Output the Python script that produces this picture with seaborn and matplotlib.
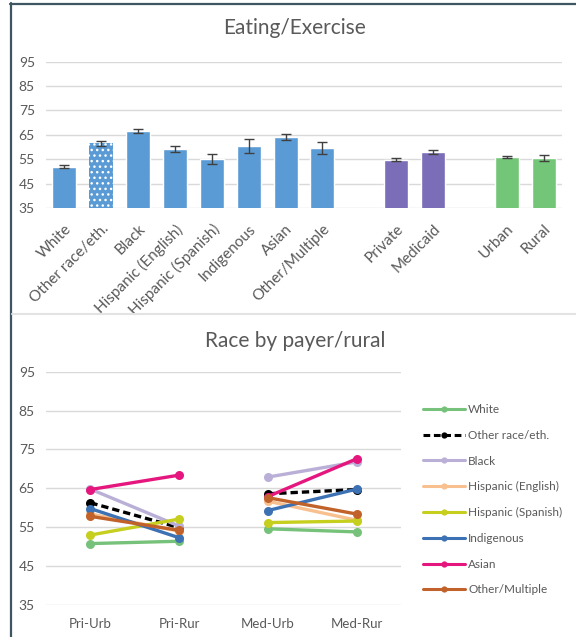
import numpy as np
import pandas as pd
import matplotlib
matplotlib.use("Agg")
import matplotlib.pyplot as plt
from matplotlib.lines import Line2D
import seaborn as sns

# ---------------- data ----------------
bar_categories = ["White", "Other race/eth.", "Black", "Hispanic (English)",
                  "Hispanic (Spanish)", "Indigenous", "Asian", "Other/Multiple",
                  "Private", "Medicaid", "Urban", "Rural"]
bar_values = [52.0, 61.6, 66.6, 59.2, 55.1, 60.5, 64.1, 59.6, 54.7, 57.8, 56.0, 55.6]
bar_errors = [0.7, 1.0, 1.0, 1.4, 2.2, 3.0, 1.4, 2.3, 0.6, 0.8, 0.4, 1.2]
bar_groups = ["race"] * 8 + ["payer"] * 2 + ["area"] * 2

line_slots = ["Pri-Urb", "Pri-Rur", "Med-Urb", "Med-Rur"]
race_names = ["White", "Other race/eth.", "Black", "Hispanic (English)",
              "Hispanic (Spanish)", "Indigenous", "Asian", "Other/Multiple"]
white_vals = [50.8, 51.4, 54.6, 53.8]
other_race_vals = [61.3, 54.9, 63.6, 64.7]
black_vals = [64.8, 55.3, 67.9, 71.8]
hisp_eng_vals = [58.4, 54.0, 61.7, 56.8]
hisp_spa_vals = [53.0, 57.1, 56.2, 56.6]
indigenous_vals = [59.8, 52.3, 59.3, 64.8]
asian_vals = [64.7, 68.4, 62.9, 72.6]
other_multi_vals = [57.8, 54.2, 62.6, 58.4]
race_series = [white_vals, other_race_vals, black_vals, hisp_eng_vals,
               hisp_spa_vals, indigenous_vals, asian_vals, other_multi_vals]

y_ticks = [35, 45, 55, 65, 75, 85, 95]

# ---------------- styling ----------------
group_colors = {"race": "#5B9BD5", "payer": "#7B6DB7", "area": "#73C677"}
race_colors = ["#77C27A", "#000000", "#BAAFD6", "#F9C08F", "#C6CE1E",
               "#3C71B4", "#E5177E", "#C1622B"]
text_gray = "#595959"
grid_gray = "#D9D9D9"

sns.set_theme(style="white")
plt.rcParams["font.family"] = ["Lato", "DejaVu Sans"]
plt.rcParams["hatch.linewidth"] = 1.0

fig = plt.figure(figsize=(5.76, 6.37), dpi=100)

# ---------------- top: bar chart ----------------
ax1 = fig.add_axes([0.0799, 0.6735, 0.8958, 0.2296])
order = bar_categories[:8] + [" "] + bar_categories[8:10] + ["  "] + bar_categories[10:]
bar_df = pd.DataFrame({"category": bar_categories, "value": bar_values})
palette = {c: group_colors[g] for c, g in zip(bar_categories, bar_groups)}
palette[" "] = "white"
palette["  "] = "white"
sns.barplot(data=bar_df, x="category", y="value", order=order, hue="category",
            hue_order=order, palette=palette, legend=False, width=0.65,
            saturation=1, ax=ax1)

positions = [order.index(c) for c in bar_categories]
ax1.errorbar(positions, bar_values, yerr=bar_errors, fmt="none",
             ecolor="#404040", elinewidth=1.0, capsize=3.5, capthick=1.0, zorder=5)

# dotted fill for the combined "other race" bar
for patch in ax1.patches:
    x_center = patch.get_x() + patch.get_width() / 2
    if abs(x_center - order.index("Other race/eth.")) < 0.01:
        patch.set_hatch("...")
        patch.set_edgecolor("white")
        patch.set_linewidth(0)

ax1.set_ylim(35, 95)
ax1.set_xlim(-0.5, len(order) - 0.5)
ax1.set_yticks(y_ticks)
ax1.yaxis.grid(True, color=grid_gray, linewidth=1.0)
ax1.set_axisbelow(True)
for s in ax1.spines.values():
    s.set_visible(False)
ax1.set_xlabel("")
ax1.set_ylabel("")
ax1.set_xticks(range(len(order)))
ax1.set_xticklabels([c.strip() for c in order], rotation=45, ha="right",
                    rotation_mode="anchor", fontsize=11, color=text_gray)
ax1.tick_params(axis="x", length=0, pad=10)
ax1.tick_params(axis="y", length=0, labelsize=10, labelcolor=text_gray, pad=8)
for lbl in ax1.get_xticklabels():
    x, y = lbl.get_position()
    lbl.set_x(x + 0.42)

fig.text(0.511, 0.956, "Eating/Exercise", ha="center", va="center",
         fontsize=15, color=text_gray)

# ---------------- bottom: line chart ----------------
ax2 = fig.add_axes([0.0799, 0.0502, 0.6163, 0.3663])
rows = []
for name, vals in zip(race_names, race_series):
    for i, v in enumerate(vals):
        rows.append({"race": name, "slot": i, "value": v, "segment": i // 2})
line_df = pd.DataFrame(rows)

dashes = {n: "" for n in race_names}
dashes["Other race/eth."] = (2.2, 1.2)
markers = {n: "o" for n in race_names}
sns.lineplot(data=line_df, x="slot", y="value", hue="race", hue_order=race_names,
             style="race", style_order=race_names, dashes=dashes, markers=markers,
             units="segment", estimator=None, palette=race_colors, linewidth=2.4,
             markersize=6.5, markeredgewidth=0, legend=False, ax=ax2)

ax2.set_ylim(35, 95)
ax2.set_xlim(-0.5, 3.5)
ax2.set_yticks(y_ticks)
ax2.set_xticks(range(len(line_slots)))
ax2.set_xticklabels(line_slots, fontsize=9.5, color=text_gray)
ax2.yaxis.grid(True, color=grid_gray, linewidth=1.0)
ax2.set_axisbelow(True)
for s in ax2.spines.values():
    s.set_visible(False)
ax2.set_xlabel("")
ax2.set_ylabel("")
ax2.tick_params(axis="x", length=0, pad=9)
ax2.tick_params(axis="y", length=0, labelsize=10, labelcolor=text_gray, pad=8)

fig.text(0.512, 0.4647, "Race by payer/rural", ha="center", va="center",
         fontsize=15, color=text_gray)

handles = []
for name, col in zip(race_names, race_colors):
    ls = (0, (2.2, 1.2)) if name == "Other race/eth." else "-"
    handles.append(Line2D([0], [0], color=col, linewidth=2.2, linestyle=ls,
                          marker="o", markersize=4.5, markeredgewidth=0))
leg = fig.legend(handles, race_names, loc="upper left",
                 bbox_to_anchor=(0.734, 1 - 404 / 637), frameon=False, fontsize=8.5,
                 handlelength=3.6, handletextpad=0.25, labelspacing=1.25,
                 borderaxespad=0, borderpad=0)
for t in leg.get_texts():
    t.set_color(text_gray)

# ---------------- outer frame ----------------
fig.add_artist(Line2D([11 / 576, 11 / 576], [0, 1 - 3 / 637], color="#3E5661",
                      linewidth=1.6, transform=fig.transFigure))
fig.add_artist(Line2D([10 / 576, 1], [1 - 4 / 637, 1 - 4 / 637], color="#3E5661",
                      linewidth=1.6, transform=fig.transFigure))
fig.add_artist(Line2D([12 / 576, 1], [1 - 314 / 637, 1 - 314 / 637], color="#E3E3E3",
                      linewidth=1.5, transform=fig.transFigure))

fig.savefig("out.png", dpi=100)
